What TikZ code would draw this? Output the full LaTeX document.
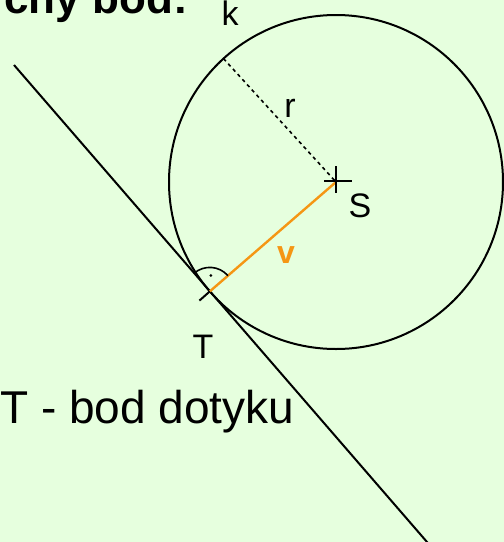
\documentclass[tikz,border=0pt]{standalone}
\usepackage{fontspec}
\setmainfont{Liberation Sans}
\usetikzlibrary{calc}
\definecolor{bg}{RGB}{230,255,222}
\definecolor{vorange}{RGB}{245,150,20}
\tikzset{
  lbl/.style={inner sep=0pt, anchor=base, font=\fontsize{34}{40}\selectfont},
  geo/.style={line width=2pt, black},
}
\begin{document}
\begin{tikzpicture}[x=1pt,y=-1pt]
\useasboundingbox (0,0) rectangle (504,542);
\clip (0,0) rectangle (504,542);
\fill[bg] (0,0) rectangle (504,542);
% points
\coordinate (S) at (336,182);
\coordinate (T) at (209.8,291.4);
\coordinate (R) at (223.5,58.6);
\coordinate (A) at (14,65);
\coordinate (B) at (440,557);
\coordinate (Text) at (199.4,300.6);
% circle
\draw[geo] (S) circle[radius=167];
% tangent
\draw[geo] (A) -- (B);
% radius r dashed
\draw[black, line width=1.6pt, dash pattern=on 3.5pt off 3.5pt] (R) -- (S);
% orange v
\draw[vorange, line width=2.4pt] (S) -- (T);
% small extension at T
\draw[black, line width=2pt] (T) -- (Text);
% cross at S
\draw[black, line width=1.6pt] ($(S)+(-12,-1)$) -- ($(S)+(16,-1)$);
\draw[black, line width=1.6pt] ($(S)+(0,-16)$) -- ($(S)+(0,11)$);
% right angle mark
\draw[black, line width=1.6pt] ($(T)+(-130.9:24)$) arc[start angle=-130.9, end angle=-40.9, radius=24];
\fill[black] ($(T)+(-86:16)$) circle[radius=1.5];
% labels
\node[lbl] (k) at (230,25) {k};
\node[lbl] (r) at (290,117) {r};
\node[lbl] (Sl) at (360,217) {S};
\node[lbl] (Tl) at (203,358) {T};
\node[lbl, text=vorange, font=\fontsize{32}{38}\selectfont\bfseries] (v) at (286,263) {v};
\node[inner sep=0pt, anchor=base west, font=\fontsize{46}{55}\selectfont] (cap) at (0,423) {T - bod dotyku};
\node[inner sep=0pt, anchor=base east, font=\fontsize{44}{52}\selectfont\bfseries] (top) at (188,13) {čný bod:};
\end{tikzpicture}
\end{document}
